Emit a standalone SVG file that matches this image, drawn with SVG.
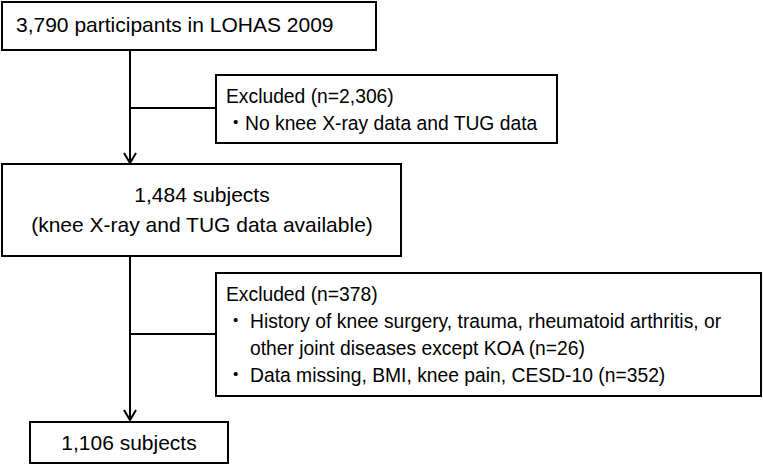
<svg xmlns="http://www.w3.org/2000/svg" width="763" height="465" viewBox="0 0 763 465">
  <style>
    .box { fill: #ffffff; stroke: #000000; stroke-width: 2; }
    .line { fill: none; stroke: #000000; stroke-width: 2; }
    .main { font-family: "Liberation Sans", Arial, sans-serif; font-size: 21px; fill: #000000; }
    .excl { font-family: "Liberation Sans", Arial, sans-serif; font-size: 19.3px; fill: #000000; }
    .dot { font-family: "Noto Sans CJK JP", sans-serif; }
  </style>
  <defs>
    <marker id="arrow" markerUnits="userSpaceOnUse" markerWidth="16" markerHeight="16" refX="13" refY="8" orient="auto" viewBox="0 0 16 16">
      <path d="M3,2 L13,8 L3,14" fill="none" stroke="#000000" stroke-width="2"/>
    </marker>
  </defs>
  <rect width="763" height="465" fill="#ffffff"/>

  <g id="connectors">
    <path class="line" d="M130,50 L130,163" marker-end="url(#arrow)"/>
    <line class="line" x1="130" y1="108" x2="216" y2="108"/>
    <path class="line" d="M130,256 L130,420" marker-end="url(#arrow)"/>
    <line class="line" x1="130" y1="334" x2="216" y2="334"/>
  </g>

  <g id="node-participants">
    <rect class="box" x="2" y="2" width="374" height="48"/>
    <text class="main" x="16" y="32">3,790 participants in LOHAS 2009</text>
  </g>

  <g id="node-excluded1">
    <rect class="box" x="216" y="75" width="341" height="68"/>
    <text class="excl" x="226" y="103">Excluded (n=2,306)</text>
    <text class="excl" y="130"><tspan class="dot" x="226">・</tspan><tspan x="245">No knee X-ray data and TUG data</tspan></text>
  </g>

  <g id="node-subjects1484">
    <rect class="box" x="2" y="164" width="399" height="92"/>
    <text class="main" x="202" y="202" text-anchor="middle">1,484 subjects</text>
    <text class="main" x="202" y="232" text-anchor="middle">(knee X-ray and TUG data available)</text>
  </g>

  <g id="node-excluded2">
    <rect class="box" x="216" y="273" width="545" height="123"/>
    <text class="excl" x="226" y="301">Excluded (n=378)</text>
    <text class="excl" y="328"><tspan class="dot" x="226">・</tspan><tspan x="250">History of knee surgery, trauma, rheumatoid arthritis, or</tspan></text>
    <text class="excl" x="250" y="355">other joint diseases except KOA (n=26)</text>
    <text class="excl" y="382"><tspan class="dot" x="226">・</tspan><tspan x="250">Data missing, BMI, knee pain, CESD-10 (n=352)</tspan></text>
  </g>

  <g id="node-subjects1106">
    <rect class="box" x="30" y="422" width="198" height="41"/>
    <text class="main" x="129" y="450" text-anchor="middle">1,106 subjects</text>
  </g>
</svg>
